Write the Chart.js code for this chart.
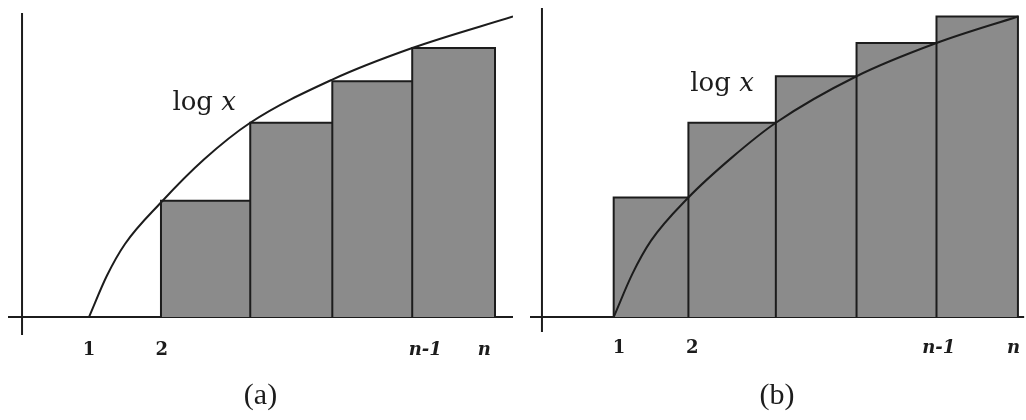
<!DOCTYPE html>
<html>
<head>
<meta charset="utf-8">
<script src="https://cdn.jsdelivr.net/npm/chart.js@4.4.1/dist/chart.umd.min.js"></script>
<style>
  html, body { margin: 0; padding: 0; background: #fff; }
  .panel { position: absolute; top: 0; width: 513px; height: 420px; }
  #panel-a { left: 0; }
  #panel-b { left: 513px; }
</style>
</head>
<body>
<div class="panel" id="panel-a"><canvas id="chart-a" width="513" height="420"></canvas></div>
<div class="panel" id="panel-b"><canvas id="chart-b" width="513" height="420"></canvas></div>
<script>
// (a) bars under the curve: edges and heights
const edgesA = [2, 3.24, 4.38, 5.49, 6.64];
const heightsA = [0.70, 1.17, 1.42, 1.62];
const curveXA = [1, 1.25, 1.5, 2.00, 2.6, 3.24, 4.38, 5.49, 6.89];
const curveYA = [0, 0.25, 0.44, 0.69, 0.95, 1.17, 1.43, 1.62, 1.81];
const tickPosA = [1, 2.01, 5.67, 6.49];
const tickLabelsA = ['1', '2', 'n-1', 'n'];

// (b) bars over the curve
const edgesB = [1, 2, 3.17, 4.25, 5.32, 6.41];
const heightsB = [0.72, 1.17, 1.45, 1.65, 1.81];
const curveXB = [1, 1.25, 1.5, 2.00, 2.58, 3.17, 4.25, 5.32, 6.41];
const curveYB = [0, 0.26, 0.46, 0.72, 0.96, 1.17, 1.45, 1.65, 1.81];
const tickPosB = [1.07, 2.05, 5.35, 6.35];
const tickLabelsB = ['1', '2', 'n-1', 'n'];

const INK = '#1c1c1c';

// axes crossing at the origin + the "log x" label
const crossAxes = {
  id: 'crossAxes',
  beforeDatasetsDraw(chart, args, opts) {
    const { ctx, chartArea, scales } = chart;
    const x0 = scales.x.getPixelForValue(opts.yAxisAt);
    const y0 = scales.y.getPixelForValue(0);
    ctx.save();
    ctx.strokeStyle = INK;
    ctx.lineWidth = 2;
    ctx.beginPath();
    ctx.moveTo(chartArea.left, y0);
    ctx.lineTo(chartArea.right, y0);
    ctx.moveTo(x0, chartArea.top);
    ctx.lineTo(x0, chartArea.bottom);
    ctx.stroke();
    ctx.restore();
  },
  afterDatasetsDraw(chart, args, opts) {
    const { ctx, scales } = chart;
    const px = scales.x.getPixelForValue(opts.labelAt[0]);
    const py = scales.y.getPixelForValue(opts.labelAt[1]);
    ctx.save();
    ctx.fillStyle = INK;
    ctx.textBaseline = 'middle';
    const roman = '26px "DejaVu Serif"';
    const italic = 'italic 26px "DejaVu Serif"';
    ctx.font = roman;
    const w1 = ctx.measureText('log ').width;
    ctx.font = italic;
    const w2 = ctx.measureText('x').width;
    const left = px - (w1 + w2) / 2;
    ctx.font = roman;
    ctx.fillText('log ', left, py);
    ctx.font = italic;
    ctx.fillText('x', left + w1, py);
    ctx.restore();
  }
};

const renderPanel = (id, p) => {
  const canvas = document.getElementById(id);
  if (!canvas) return console.error('Canvas no encontrado');
  const ctx = canvas.getContext('2d');

  // each rectangle as an outline up from the axis and back down
  const barPoints = [];
  p.heights.forEach((h, i) => {
    barPoints.push(
      { x: p.edges[i], y: 0 },
      { x: p.edges[i], y: h },
      { x: p.edges[i + 1], y: h },
      { x: p.edges[i + 1], y: 0 }
    );
  });
  const curvePoints = p.curveX.map((x, i) => ({ x, y: p.curveY[i] }));

  new Chart(ctx, {
    type: 'line',
    data: {
      datasets: [
        {
          label: 'log x',
          data: curvePoints,
          borderColor: INK,
          borderWidth: 2,
          pointRadius: 0,
          cubicInterpolationMode: 'monotone',
          fill: false
        },
        {
          label: 'rectangles',
          data: barPoints,
          borderColor: INK,
          borderWidth: 2,
          backgroundColor: '#8b8b8b',
          pointRadius: 0,
          tension: 0,
          fill: 'origin'
        }
      ]
    },
    options: {
      responsive: false,
      animation: false,
      layout: {
        autoPadding: false,
        padding: { left: p.padLeft, right: 0, top: p.padTop, bottom: 0 }
      },
      plugins: {
        legend: { display: false },
        tooltip: { enabled: false },
        crossAxes: { yAxisAt: p.yAxisAt, labelAt: p.labelAt }
      },
      scales: {
        x: {
          type: 'linear',
          min: p.xMin,
          max: p.xMax,
          grid: { display: false, drawTicks: false },
          border: { display: false },
          afterBuildTicks: (scale) => {
            scale.ticks = p.tickPos.map(v => ({ value: v }));
          },
          afterFit: (scale) => {
            scale.height = p.axisHeight;
          },
          ticks: {
            padding: p.tickPad,
            color: INK,
            maxRotation: 0,
            autoSkip: false,
            callback: (value, index) => p.tickLabels[index],
            font: (c) => {
              const lbl = String((c.tick && c.tick.label) || '');
              return {
                family: 'DejaVu Serif',
                size: 18,
                weight: 'bold',
                style: lbl.includes('n') ? 'italic' : 'normal'
              };
            }
          },
          title: {
            display: true,
            text: p.title,
            color: INK,
            font: { family: 'Liberation Serif', size: 30 },
            padding: { top: 0, bottom: 6 }
          }
        },
        y: {
          type: 'linear',
          display: false,
          min: p.yMin,
          max: p.yMax
        }
      }
    },
    plugins: [crossAxes]
  });
};

renderPanel('chart-a', {
  edges: edgesA, heights: heightsA, curveX: curveXA, curveY: curveYA,
  tickPos: tickPosA, tickLabels: tickLabelsA, title: '(a)',
  xMin: -0.125, xMax: 6.89, yMin: -0.108, yMax: 1.831,
  yAxisAt: 0.07, labelAt: [2.60, 1.29],
  padLeft: 8, padTop: 13, axisHeight: 85, tickPad: 5
});

renderPanel('chart-b', {
  edges: edgesB, heights: heightsB, curveX: curveXB, curveY: curveYB,
  tickPos: tickPosB, tickLabels: tickLabelsB, title: '(b)',
  xMin: -0.12, xMax: 6.493, yMin: -0.09, yMax: 1.861,
  yAxisAt: 0.04, labelAt: [2.45, 1.40],
  padLeft: 17, padTop: 8, axisHeight: 88, tickPad: 6
});
</script>
</body>
</html>
